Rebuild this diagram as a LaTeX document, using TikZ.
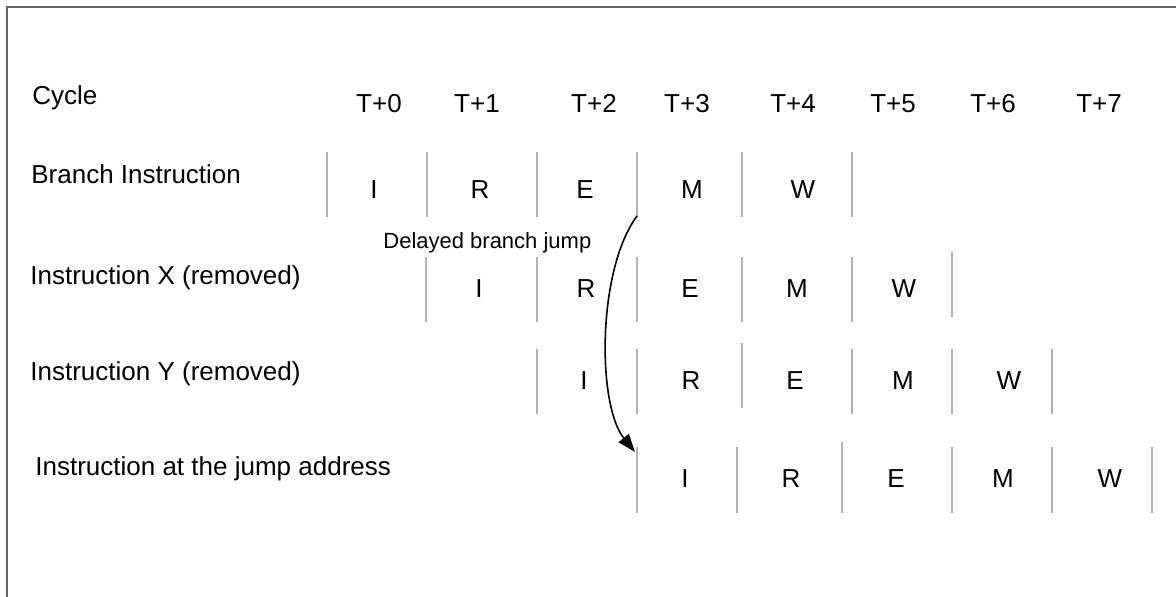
\documentclass[tikz,border=0pt]{standalone}
\usepackage{fontspec}
\setmainfont{Liberation Sans}
\usetikzlibrary{arrows.meta}

\begin{document}
\begin{tikzpicture}[x=0.5pt, y=-0.5pt,
    rowlabel/.style={anchor=base west, inner sep=0pt, font=\fontsize{13}{15}\selectfont},
    cyclelabel/.style={anchor=base, inner sep=0pt, font=\fontsize{13}{15}\selectfont},
    stage/.style={anchor=base, inner sep=0pt, font=\fontsize{13}{15}\selectfont},
    divider/.style={gray!60, line width=0.6pt},
    jumparrow/.style={-{Triangle[length=9pt, width=6.5pt]}, line width=0.8pt},
    frame/.style={draw=black!60, line width=1pt}]

    % ====== CANVAS ======
    \path[use as bounding box, clip] (0,0) rectangle (1176,596);
    \draw[frame] (7,7) rectangle (1200,620);

    % ====== CYCLE HEADER ======
    \node[rowlabel] (cycle) at (32,104) {Cycle};
    \foreach \t/\x in {0/379,1/477,2/594,3/687,4/793,5/893,6/993,7/1099} {
      \node[cyclelabel] (t\t) at (\x,112) {T+\t};
    }

    % ====== BRANCH INSTRUCTION ======
    \node[rowlabel] (branch) at (31,183) {Branch Instruction};
    \foreach \x in {327,427,537,637,742,852} {
      \draw[divider] (\x,152) -- (\x,217);
    }
    \foreach \s/\x [count=\i] in {I/374,R/480,E/585,M/692,W/803} {
      \node[stage] (b\i) at (\x,198) {\s};
    }

    % ====== INSTRUCTION X ======
    \node[rowlabel] (instrx) at (30,284) {Instruction X (removed)};
    \foreach \x/\y in {426/257,537/257,637/257,742/257,852/257,952/252} {
      \draw[divider] (\x,\y) -- ++(0,65);
    }
    \foreach \s/\x [count=\i] in {I/479,R/586,E/690,M/797,W/904} {
      \node[stage] (x\i) at (\x,297) {\s};
    }

    % ====== INSTRUCTION Y ======
    \node[rowlabel] (instry) at (30,380) {Instruction Y (removed)};
    \foreach \x/\y in {537/349,637/349,742/343,852/349,952/349,1052/349} {
      \draw[divider] (\x,\y) -- ++(0,65);
    }
    \foreach \s/\x [count=\i] in {I/584,R/691,E/795,M/903,W/1009} {
      \node[stage] (y\i) at (\x,389) {\s};
    }

    % ====== JUMP TARGET ======
    \node[rowlabel] (jumpaddr) at (35,475) {Instruction at the jump address};
    \foreach \x/\y in {637/447,737/447,842/442,952/447,1052/447,1152/447} {
      \draw[divider] (\x,\y) -- (\x,513);
    }
    \foreach \s/\x [count=\i] in {I/685,R/791,E/896,M/1003,W/1110} {
      \node[stage] (j\i) at (\x,487) {\s};
    }

    % Delayed jump
    \node[anchor=base west, inner sep=0pt, font=\fontsize{11}{13}\selectfont]
      (delay) at (383,248) {Delayed branch jump};
    \coordinate (jumpfrom) at (637,216);
    \coordinate (jumpto) at (635,452);
    \draw[jumparrow] (jumpfrom) .. controls (597,270) and (597,405) .. (jumpto);

\end{tikzpicture}
\end{document}
